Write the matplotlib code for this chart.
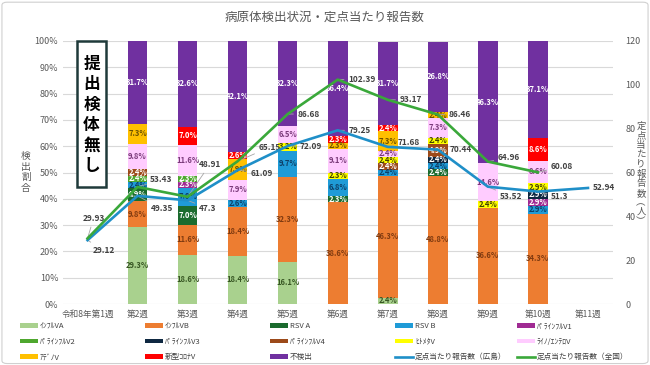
import numpy as np
import matplotlib
matplotlib.use("Agg")
import matplotlib.pyplot as plt
from matplotlib.patches import Rectangle, FancyBboxPatch, Patch
from matplotlib.lines import Line2D

plt.rcParams['font.family'] = ['Noto Sans CJK JP', 'DejaVu Sans']

# ---------------- data ----------------
weeks = ["令和8年第1週", "第2週", "第3週", "第4週", "第5週", "第6週",
         "第7週", "第8週", "第9週", "第10週", "第11週"]

series_names = ["ｲﾝﾌﾙVA", "ｲﾝﾌﾙVB", "RSV A", "RSV B", "ﾊﾟﾗｲﾝﾌﾙV1",
                "ﾊﾟﾗｲﾝﾌﾙV2", "ﾊﾟﾗｲﾝﾌﾙV3", "ﾊﾟﾗｲﾝﾌﾙV4", "ﾋﾄﾒﾀV", "ﾗｲﾉ/ｴﾝﾃﾛV",
                "ｱﾃﾞﾉV", "新型ｺﾛﾅV", "不検出"]

inf_a  = [0, 29.3, 18.6, 18.4, 16.1, 0,    2.4,  0,    0,    0,    0]
inf_b  = [0, 9.8,  11.6, 18.4, 32.3, 38.6, 46.3, 48.8, 36.6, 34.3, 0]
rsv_a  = [0, 4.9,  7.0,  0,    0,    2.3,  0,    2.4,  0,    0,    0]
rsv_b  = [0, 2.4,  7.0,  2.6,  9.7,  6.8,  2.4,  2.4,  0,    2.9,  0]
para1  = [0, 0,    2.3,  0,    0,    0,    0,    0,    0,    2.9,  0]
para2  = [0, 2.4,  2.3,  0,    0,    0,    0,    0,    0,    0,    0]
para3  = [0, 0,    0,    0,    0,    0,    0,    2.4,  0,    2.9,  0]
para4  = [0, 2.4,  0,    0,    0,    0,    2.4,  4.9,  0,    0,    0]
hmpv   = [0, 0,    0,    0,    3.2,  2.3,  2.4,  2.4,  2.4,  2.9,  0]
rhino  = [0, 9.8,  11.6, 7.9,  6.5,  9.1,  2.4,  7.3,  14.6, 8.6,  0]
adeno  = [0, 7.3,  0,    7.9,  0,    2.3,  7.3,  2.4,  0,    0,    0]
covid  = [0, 0,    7.0,  2.6,  0,    2.3,  2.4,  0,    0,    8.6,  0]
undet  = [0, 31.7, 32.6, 42.1, 32.3, 36.4, 31.7, 26.8, 46.3, 37.1, 0]

hiroshima = [29.12, 49.35, 47.3, 61.09, 72.09, 79.25, 71.68, 70.44, 53.52, 51.3, 52.94]
national  = [29.93, 53.43, 48.91, 65.15, 86.68, 102.39, 93.17, 86.46, 64.96, 60.08, np.nan]

line_names = ["定点当たり報告数（広島）", "定点当たり報告数（全国）"]
title = "病原体検出状況・定点当たり報告数"
left_label = "検出割合"
right_label = "定点当たり報告数︵人︶"
box_text = "提出検体無し"

# ---------------- styles ----------------
colors = ["#a9d18e", "#ed7d31", "#1b6b2e", "#1f9bd7", "#a02b93",
          "#4ea72e", "#0e2841", "#9c4a1a", "#ffff00", "#ffccff",
          "#ffc000", "#ff0000", "#7030a0"]
label_colors = ["#375623", "#7f3a10", "white", "#0d3f66", "white",
                "white", "white", "white", "#404000", "#7a3a7a",
                "#6b5000", "white", "white"]
col_hiro = "#1f8fc8"
col_nat = "#3aa83a"

green_off = [(6, 20), (24, 7), (22, 32), (32, 14), (21, 0), (24, 0),
             (23, 0), (22, 0), (21, 4), (24, 6), (0, 0)]
blue_off = [(16, -10), (24, -13), (20, -8), (24, -3), (23, 0), (22, 0),
            (21, 4), (23, 0), (23, -10), (22, -5), (16, 0)]

all_series = [inf_a, inf_b, rsv_a, rsv_b, para1, para2, para3, para4,
              hmpv, rhino, adeno, covid, undet]

W, H = 650, 365
fig = plt.figure(figsize=(6.5, 3.65), dpi=100)
ax = fig.add_axes([62.5/W, 1-304/H, (613-62.5)/W, (304-41)/H])
ax2 = ax.twinx()

x = np.arange(len(weeks))
bottom = np.zeros(len(weeks))
bar_handles = []
for vals, c, lc, name in zip(all_series, colors, label_colors, series_names):
    v = np.array(vals, dtype=float)
    ax.bar(x, v, 0.39, bottom=bottom, color=c, label=name, zorder=2)
    for xi, (vi, bi) in enumerate(zip(v, bottom)):
        if vi > 0:
            ax.text(xi, bi + vi/2, f"{vi:.1f}%", ha='center', va='center',
                    fontsize=5.5, color=lc, fontweight='bold', zorder=3)
    bottom += v
    bar_handles.append(Patch(facecolor=c, label=name))

ax.set_xlim(-0.5, len(weeks)-0.5)
ax.set_ylim(0, 100)
ax.set_yticks(np.arange(0, 101, 10))
ax.set_yticklabels([f"{t}%" for t in range(0, 101, 10)])
ax.set_xticks(x)
ax.set_xticklabels(weeks)
ax.yaxis.grid(True, color="#d9d9d9", lw=0.8, zorder=0)
ax.set_axisbelow(True)
for sp in ax.spines.values():
    sp.set_visible(False)
for sp in ax2.spines.values():
    sp.set_visible(False)
ax.tick_params(axis='both', length=0, labelsize=6.5, colors="#595959", pad=3)
ax.tick_params(axis='x', labelsize=6.2, pad=4)

ax2.set_ylim(0, 120)
ax2.set_yticks(np.arange(0, 121, 20))
ax2.tick_params(axis='y', length=0, labelsize=6.5, colors="#595959", pad=9)

ax2.plot(x, hiroshima, color=col_hiro, lw=1.9, zorder=4)
ax2.plot(x, national, color=col_nat, lw=1.9, zorder=4)

def label_line(vals, offs):
    for xi, (v, off) in enumerate(zip(vals, offs)):
        if not np.isnan(v):
            ax2.annotate(f"{v:g}", (xi, v), xytext=off, textcoords='offset pixels',
                         ha='center', va='center', fontsize=6, color="#404040",
                         fontweight='bold', annotation_clip=False,
                         arrowprops=dict(arrowstyle='-', color='#a6a6a6', lw=0.6,
                                         shrinkA=1, shrinkB=0))

label_line(hiroshima, blue_off)
label_line(national, green_off)

# "no specimens" box
ax.add_patch(Rectangle((-0.21, 44.5), 0.58, 55.5, fill=True, facecolor='white',
                       edgecolor='#1f3a3a', lw=1.8, zorder=5, clip_on=False))

def vtext(s, xc, yc, step, **kw):
    n = len(s)
    y0 = yc - step*(n-1)/2
    for i, ch in enumerate(s):
        fig.text(xc/W, 1-(y0 + i*step)/H, ch, ha='center', va='center', **kw)

vtext(box_text, 91.5, 115, 20.5, fontsize=12, fontweight='bold', color='black', zorder=6)

# titles / axis labels
fig.text(0.5, 1-17/H, title, ha='center', va='center', fontsize=9, color="#595959")
vtext(left_label, 26, 172, 10.5, fontsize=7, color="#595959")
vtext(right_label, 641, 174, 9.6, fontsize=6.8, color="#595959")

# legend: 5 columns, row-major
line_handles = [Line2D([], [], color=col_hiro, lw=1.9, label=line_names[0]),
                Line2D([], [], color=col_nat, lw=1.9, label=line_names[1])]
handles = bar_handles + line_handles
col_x = [20, 145, 270, 395, 517]
for c in range(5):
    hs = [handles[r*5 + c] for r in range(3)]
    fig.legend(handles=hs, loc='upper left',
               bbox_to_anchor=(col_x[c]/W, 1-322/H),
               frameon=False, fontsize=5.5, handlelength=2.3, handleheight=0.55,
               handletextpad=0.3, labelspacing=1.0, borderpad=0, borderaxespad=0,
               labelcolor="#404040")

fig.patches.append(FancyBboxPatch((0.003, 0.004), 0.994, 0.99,
                                  boxstyle='round,pad=0,rounding_size=0.008',
                                  transform=fig.transFigure, fill=False,
                                  ec='#d0d0d0', lw=0.8))

fig.savefig("out.png", dpi=100)
